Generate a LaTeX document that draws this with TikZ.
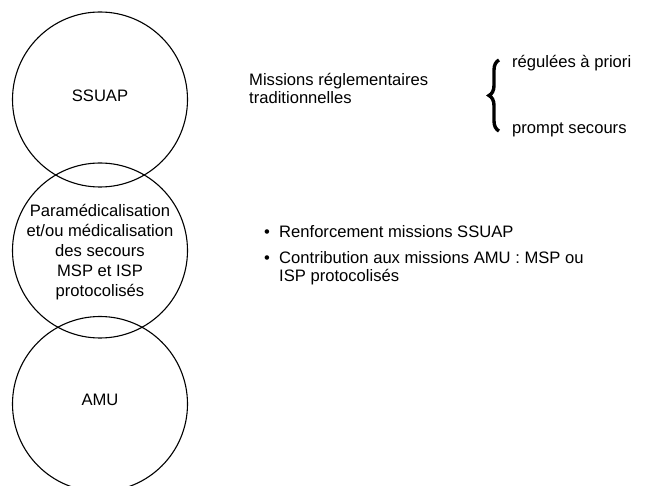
\documentclass[tikz,border=0pt]{standalone}
\usepackage{fontspec}
\setmainfont{Liberation Sans}
\usetikzlibrary{decorations.pathreplacing}
\begin{document}
\begin{tikzpicture}[x=1pt,y=-1pt,
  ring/.style={circle,draw,line width=1.1pt,minimum size=175pt,inner sep=0pt},
  lbl/.style={font=\fontsize{16.6}{20}\selectfont,align=center,inner sep=0pt},
  txt/.style={font=\fontsize{16.6}{18}\selectfont,align=left,anchor=base west,inner sep=0pt},
  bigbrace/.style={decorate,decoration={brace,amplitude=10pt},line width=3.4pt}]
\useasboundingbox (0,0) rectangle (646,486);
\clip (0,0) rectangle (646,486);
% circles
\node[ring] (top) at (100,99.5) {};
\node[ring] (mid) at (100,250.5) {};
\node[ring] (bot) at (100,404) {};
% circle labels
\node[lbl] (ssuap) at (100,96) {SSUAP};
\node[lbl] (para) at (100,252) {Paramédicalisation\\et/ou médicalisation\\des secours\\MSP et ISP\\protocolisés};
\node[lbl] (amu) at (100,400) {AMU};
% right texts (base anchor = last line baseline)
\node[txt] (mrt) at (249,104) {Missions réglementaires\\traditionnelles};
\coordinate (bb) at (499,131);
\coordinate (bt) at (499,60);
\draw[bigbrace] (bb) -- (bt);
\node[txt] (reg) at (512,68) {régulées à priori};
\node[txt] (ps) at (512,134) {prompt secours};
% bullets
\node[txt] (b1) at (264,238) {•};
\node[txt] (r1) at (279,238) {Renforcement missions SSUAP};
\node[txt] (b2) at (264,264) {•};
\node[txt] (r2) at (279,282) {Contribution aux missions AMU : MSP ou\\ISP protocolisés};
\end{tikzpicture}
\end{document}
